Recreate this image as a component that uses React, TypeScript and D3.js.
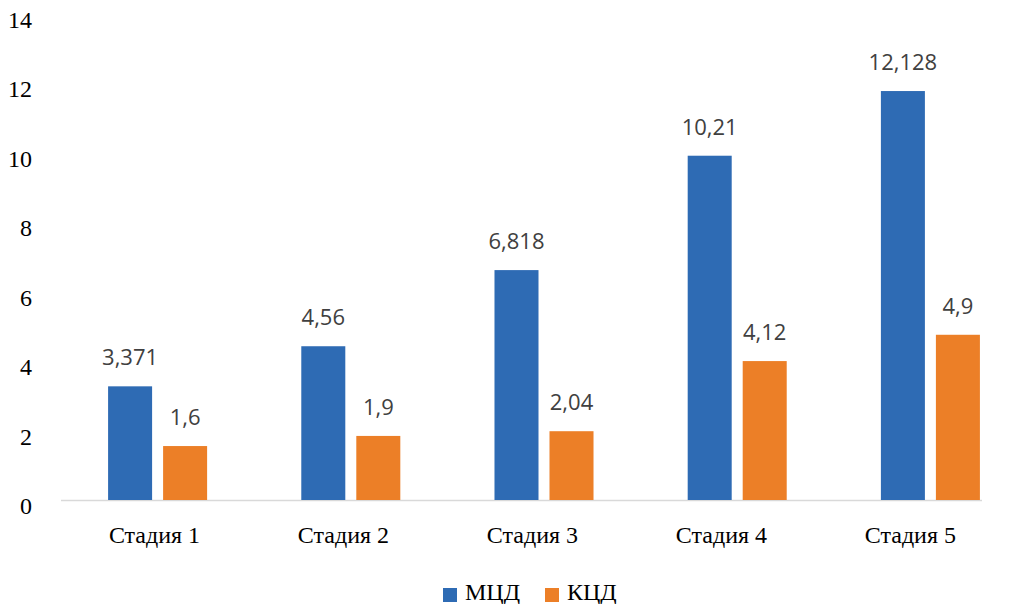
import React, { useEffect, useRef } from "react";
import * as d3 from "d3";

const categories = ["Стадия 1", "Стадия 2", "Стадия 3", "Стадия 4", "Стадия 5"];
const seriesNames = ["МЦД", "КЦД"];
const mcdValues = [3.371, 4.56, 6.818, 10.21, 12.128];
const kcdValues = [1.6, 1.9, 2.04, 4.12, 4.9];
const valueLabelsMcd = ["3,371", "4,56", "6,818", "10,21", "12,128"];
const valueLabelsKcd = ["1,6", "1,9", "2,04", "4,12", "4,9"];
const yTicks = [0, 2, 4, 6, 8, 10, 12, 14];
const colors = ["#2e6bb4", "#ec7f27"];

const App = () => {
  const ref = useRef<SVGSVGElement | null>(null);

  useEffect(() => {
    const width = 1014;
    const height = 604;
    const svg = d3.select(ref.current).attr("width", width).attr("height", height);
    svg.selectAll("*").remove();

    const x = d3.scaleBand().domain(categories).range([61, 1027]).padding(0);
    const xInner = d3
      .scaleBand()
      .domain(seriesNames)
      .range([0, x.bandwidth()])
      .paddingInner(0.2)
      .paddingOuter(0.856);
    const y = d3.scaleLinear().domain([0, 14]).range([500, 500 - 14 * 33.72]);
    // tick and category labels sit slightly off the data scales in the picture
    const yLabel = d3.scaleLinear().domain([0, 14]).range([506, 20]);
    const xLabel = d3.scalePoint().domain(categories).range([154.5, 910.4]);

    // y tick labels
    svg
      .append("g")
      .selectAll("text")
      .data(yTicks)
      .join("text")
      .attr("x", 32)
      .attr("y", (d) => yLabel(d) + 8)
      .attr("text-anchor", "end")
      .attr("font-family", "'Liberation Serif', 'Times New Roman', serif")
      .attr("font-size", 24)
      .attr("fill", "#000")
      .text((d) => d);

    // baseline
    svg
      .append("line")
      .attr("x1", 61)
      .attr("x2", 982)
      .attr("y1", y(0) + 0.5)
      .attr("y2", y(0) + 0.5)
      .attr("stroke", "#d9d9d9")
      .attr("stroke-width", 1.5);

    const series = [
      { name: seriesNames[0], values: mcdValues, labels: valueLabelsMcd, color: colors[0] },
      { name: seriesNames[1], values: kcdValues, labels: valueLabelsKcd, color: colors[1] },
    ];

    series.forEach((s) => {
      const g = svg.append("g");
      g.selectAll("rect")
        .data(s.values)
        .join("rect")
        .attr("x", (_, i) => (x(categories[i]) as number) + (xInner(s.name) as number))
        .attr("y", (d) => y(d))
        .attr("width", xInner.bandwidth())
        .attr("height", (d) => y(0) - y(d))
        .attr("fill", s.color);

      g.selectAll("text")
        .data(s.values)
        .join("text")
        .attr(
          "x",
          (_, i) => (x(categories[i]) as number) + (xInner(s.name) as number) + xInner.bandwidth() / 2
        )
        .attr("y", (d) => y(d) - 21)
        .attr("text-anchor", "middle")
        .attr("font-family", "'Open Sans', 'Noto Sans', sans-serif")
        .attr("font-size", 22)
        .attr("fill", "#404040")
        .text((_, i) => s.labels[i]);
    });

    // category labels
    svg
      .append("g")
      .selectAll("text")
      .data(categories)
      .join("text")
      .attr("x", (d) => xLabel(d) as number)
      .attr("y", 543)
      .attr("text-anchor", "middle")
      .attr("font-family", "'Liberation Serif', 'Times New Roman', serif")
      .attr("font-size", 24)
      .attr("fill", "#000")
      .text((d) => d);

    // legend
    const legend = svg
      .append("g")
      .selectAll("g")
      .data(seriesNames)
      .join("g")
      .attr("transform", (_, i) => `translate(${443 + i * 102},0)`);
    legend
      .append("rect")
      .attr("x", 0)
      .attr("y", 588)
      .attr("width", 14)
      .attr("height", 14)
      .attr("fill", (_, i) => colors[i]);
    legend
      .append("text")
      .attr("x", 22)
      .attr("y", 600)
      .attr("font-family", "'Liberation Serif', 'Times New Roman', serif")
      .attr("font-size", 24)
      .attr("fill", "#000")
      .text((d) => d);
  }, []);

  return (
    <svg
      ref={ref}
      style={{ position: "absolute", left: 0, top: 0, display: "block", background: "#fff" }}
    />
  );
};

export default App;
